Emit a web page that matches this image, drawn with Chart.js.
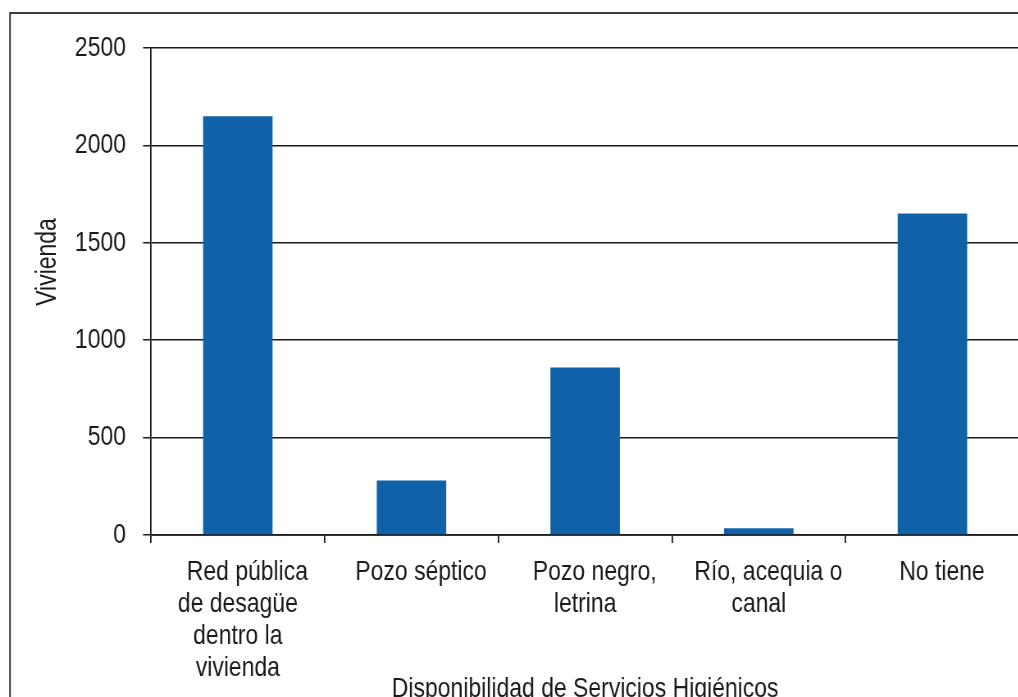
<!DOCTYPE html>
<html>
<head>
<meta charset="utf-8">
<script src="https://cdn.jsdelivr.net/npm/chart.js@4.4.1/dist/chart.umd.min.js"></script>
<style>
  html, body { margin: 0; padding: 0; background: #fff; overflow: hidden; }
  /* lienzo ancho comprimido en horizontal: letra tipo "narrow" */
  #wrap { width: 1243px; height: 705px; transform: scaleX(0.82); transform-origin: 0 0; }
</style>
</head>
<body>
<div id="wrap"><canvas id="bar_chart"></canvas></div>
<script>
const categorias = [
  ["   Red pública", "de desagüe", "dentro la", "vivienda"],
  "   Pozo séptico",
  ["   Pozo negro,", "letrina"],
  ["   Río, acequia o", "canal"],
  "   No tiene",
];
const viviendas = [2150, 280, 860, 35, 1650];
const tituloX = "Disponibilidad de Servicios Higiénicos";
const tituloY = "Vivienda";

const K = 0.82; // factor de compresión horizontal
const fuente = "'Liberation Sans', Arial, sans-serif";
const negro = "#1a1a1a";

// marco exterior y título vertical
const marco = {
  id: "marco",
  beforeDraw(chart) {
    const ctx = chart.ctx;
    ctx.save();
    ctx.strokeStyle = "#3a3a3a";
    ctx.lineWidth = 2;
    ctx.strokeRect(10 / K, 13, chart.width + 20, chart.height + 20);
    ctx.restore();
  },
  afterDraw(chart) {
    const ctx = chart.ctx;
    ctx.save();
    ctx.translate(48 / K, 262);
    ctx.scale(1 / K, 1);
    ctx.rotate(-Math.PI / 2);
    ctx.scale(K, 1);
    ctx.font = "28px " + fuente;
    ctx.fillStyle = negro;
    ctx.textAlign = "center";
    ctx.textBaseline = "middle";
    ctx.fillText(tituloY, 0, 0);
    ctx.restore();
  },
};

const ctx = document.getElementById("bar_chart");

new Chart(ctx, {
  type: "bar",
  data: {
    labels: categorias,
    datasets: [
      {
        label: tituloY,
        data: viviendas,
        backgroundColor: "#0f62a8",
        barPercentage: 0.4,
        categoryPercentage: 1,
      },
    ],
  },
  options: {
    responsive: true,
    maintainAspectRatio: false,
    animation: false,
    layout: { padding: { top: 48, left: 0, right: 0, bottom: 0 } },
    plugins: {
      legend: { display: false },
      tooltip: { enabled: false },
    },
    scales: {
      x: {
        afterFit(scale) { scale.height = 705 - 535; },
        grid: {
          drawOnChartArea: false,
          drawTicks: true,
          tickLength: 8,
          color: negro,
          lineWidth: 1.8,
          offset: true,
        },
        border: { color: negro, width: 1.8 },
        ticks: {
          color: negro,
          padding: 13,
          maxRotation: 0,
          autoSkip: false,
          font: { family: fuente, size: 28, lineHeight: 1.15 },
        },
        title: {
          display: true,
          text: tituloX,
          color: negro,
          padding: { top: 0, bottom: 0 },
          font: { family: fuente, size: 28, lineHeight: 1.15 },
        },
      },
      y: {
        min: 0,
        max: 2500,
        afterFit(scale) { scale.width = 151 / K; },
        grid: {
          drawTicks: true,
          tickLength: 8 / K,
          color: negro,
          lineWidth: 1.5,
        },
        border: { color: negro, width: 1.8 },
        ticks: {
          stepSize: 500,
          color: negro,
          padding: 17 / K,
          font: { family: fuente, size: 28 },
          callback: (v) => String(v),
        },
      },
    },
  },
  plugins: [marco],
});
</script>
</body>
</html>
